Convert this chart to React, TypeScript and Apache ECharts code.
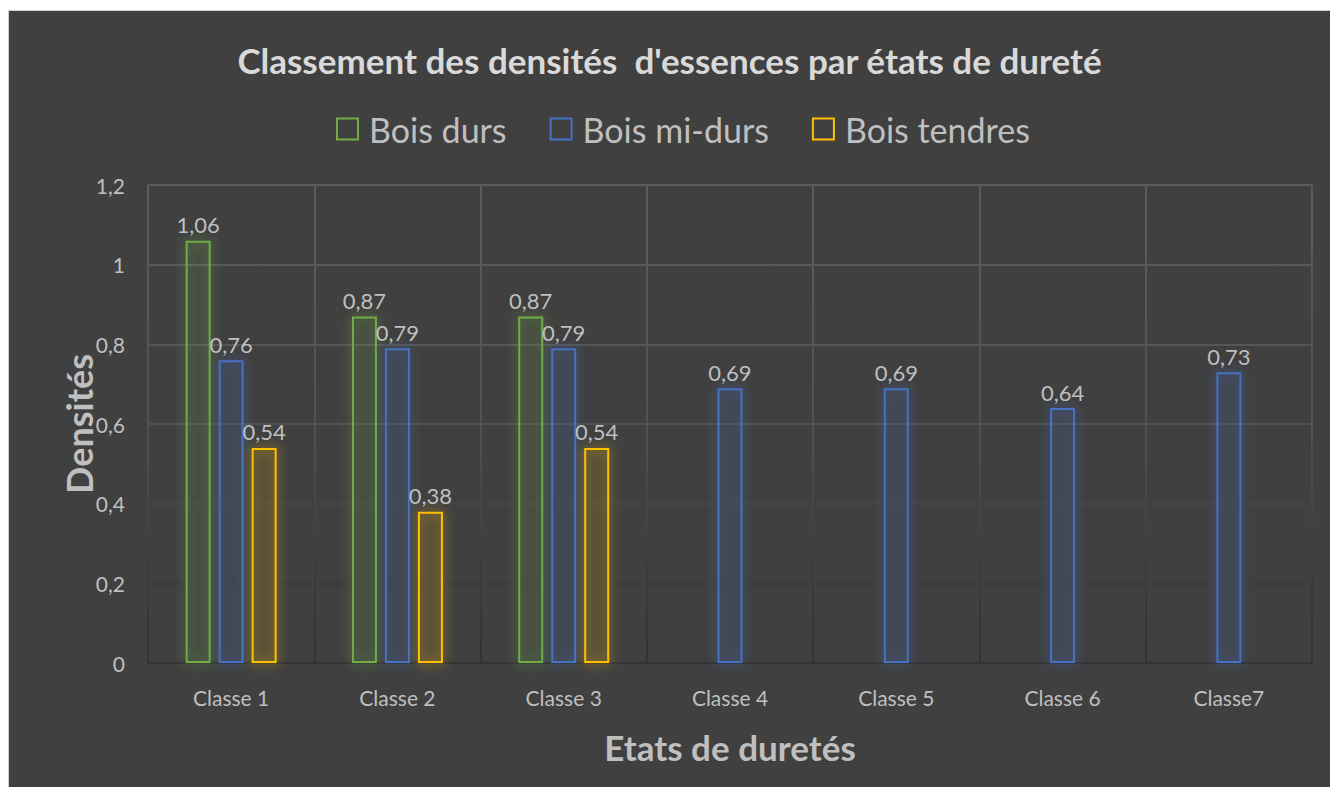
import React, { useEffect, useRef } from "react";
import * as echarts from "echarts";

const categories = ["Classe 1", "Classe 2", "Classe 3", "Classe 4", "Classe 5", "Classe 6", "Classe7"];
const boisDurs = [1.06, 0.87, 0.87, null, null, null, null];
const boisMiDurs = [0.76, 0.79, 0.79, 0.69, 0.69, 0.64, 0.73];
const boisTendres = [0.54, 0.38, 0.54, null, null, null, null];
const seriesNames = ["Bois durs", "Bois mi-durs", "Bois tendres"];
const yTicks = [0, 0.2, 0.4, 0.6, 0.8, 1, 1.2];

const COLORS = ["#70AD47", "#4472C4", "#FFC000"];
const FONT = "Lato, 'Noto Sans', sans-serif";

const W = 1321;
const H = 776;

function App() {
  const ref = useRef<HTMLDivElement>(null);
  useEffect(() => {
    if (!ref.current) return;
    const chart = echarts.init(ref.current, null, { renderer: "svg" });
    const gridTop = 174;
    const gridBottomY = 652;
    const gridGrad = new echarts.graphic.LinearGradient(
      0, gridTop, 0, gridBottomY,
      [
        { offset: 0, color: "#5c5c5c" },
        { offset: 0.5, color: "#525252" },
        { offset: 0.8, color: "#3c3c3c" },
        { offset: 1, color: "#333333" },
      ],
      true
    );
    const fmt = (v: number) => String(v).replace(".", ",");
    const mk = (name: string, data: (number | null)[], i: number) => ({
      name,
      type: "bar",
      data,
      barWidth: 25,
      barGap: "32%",
      itemStyle: {
        color: echarts.color.modifyAlpha(COLORS[i], 0.06),
        borderColor: COLORS[i],
        borderWidth: 2,
        shadowBlur: 12,
        shadowColor: echarts.color.modifyAlpha(COLORS[i], 0.9),
      },
      label: {
        show: true,
        position: "top",
        distance: 5,
        color: "#bfbfbf",
        fontFamily: FONT,
        fontSize: 22,
        formatter: (p: any) => fmt(p.value),
      },
    });
    chart.setOption({
      animation: false,
      backgroundColor: "#404040",
      title: {
        text: "Classement des densités  d'essences par états de dureté",
        left: "center",
        top: 26,
        textStyle: { color: "#d9d9d9", fontFamily: FONT, fontSize: 35, fontWeight: "bold" },
      },
      legend: {
        top: 99,
        left: 327,
        padding: 0,
        itemWidth: 21,
        itemHeight: 21,
        itemGap: 43,
        icon: "rect",
        textStyle: { color: "#bfbfbf", fontFamily: FONT, fontSize: 34, lineHeight: 38, padding: [0, 0, 0, 6] },
        data: seriesNames.map((n, i) => ({
          name: n,
          itemStyle: { color: "transparent", borderColor: COLORS[i], borderWidth: 2, shadowBlur: 0 },
        })),
      },
      grid: { left: 139, top: gridTop, right: 18, bottom: H - gridBottomY },
      xAxis: {
        type: "category",
        data: categories,
        name: "Etats de duretés",
        nameLocation: "middle",
        nameGap: 66,
        nameMoveOverlap: false,
        nameTextStyle: { color: "#bfbfbf", fontFamily: FONT, fontSize: 35, fontWeight: "bold" },
        axisLine: { show: false },
        axisTick: { show: false },
        axisLabel: { color: "#bfbfbf", fontFamily: FONT, fontSize: 21, margin: 24 },
        splitLine: { show: true, lineStyle: { color: gridGrad, width: 2 } },
      },
      yAxis: {
        type: "value",
        min: 0,
        max: 1.2,
        interval: 0.2,
        name: "Densités",
        nameLocation: "middle",
        nameGap: 51,
        nameMoveOverlap: false,
        nameTextStyle: { color: "#bfbfbf", fontFamily: FONT, fontSize: 36, fontWeight: "bold" },
        axisLine: { show: false },
        axisTick: { show: false },
        axisLabel: {
          color: "#bfbfbf",
          fontFamily: FONT,
          fontSize: 21,
          margin: 23,
          formatter: (v: number) => {
            const t = yTicks.find((x) => Math.abs(x - v) < 1e-9);
            return fmt(t !== undefined ? t : Math.round(v * 10) / 10);
          },
        },
        splitLine: { show: true, lineStyle: { color: gridGrad, width: 2 } },
      },
      series: [mk(seriesNames[0], boisDurs, 0), mk(seriesNames[1], boisMiDurs, 1), mk(seriesNames[2], boisTendres, 2)],
    });
    return () => chart.dispose();
  }, []);
  return (
    <div
      style={{
        position: "fixed",
        left: 8,
        top: 10,
        width: W,
        height: H,
        borderLeft: "1px solid #d0d0d0",
        borderTop: "1px solid #d0d0d0",
      }}
    >
      <div ref={ref} style={{ width: W, height: H }} />
    </div>
  );
}

export default App;
